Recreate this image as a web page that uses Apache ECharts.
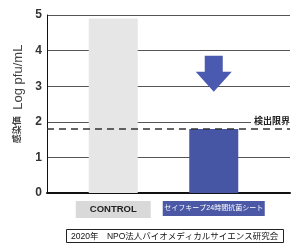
<!DOCTYPE html>
<html>
<head>
<meta charset="utf-8">
<script src="https://cdn.jsdelivr.net/npm/echarts@6/dist/echarts.min.js"></script>
<style>
  html, body { margin: 0; padding: 0; background: #fff; }
  #chart { width: 302px; height: 246px; }
</style>
</head>
<body>
<div id="chart"></div>
<script>
// data
const categories = ['CONTROL', 'セイフキープ24時間抗菌シート']
const values = [4.9, 1.8]
const barColors = ['#e6e6e6', '#4755a5']
const detectionLimit = 1.8
const limitLabel = '検出限界'
const arrowAt = 3.35
const yTicks = [0, 1, 2, 3, 4, 5]
const source = '2020年　NPO法人バイオメディカルサイエンス研究会'

const font = "'Liberation Sans', 'Noto Sans CJK JP', sans-serif"
const chart = echarts.init(document.getElementById('chart'))

const arrowPath = 'path://M9,0 H27 V16 H36 L18,36 L0,16 H9 Z'

chart.setOption({
  animation: false,
  textStyle: { fontFamily: font },
  title: {
    text: source,
    left: 66,
    top: 229,
    padding: [3, 5, 2, 5],
    borderColor: '#222',
    borderWidth: 1,
    textStyle: { fontSize: 8.5, fontWeight: 'normal', color: '#111', fontFamily: font }
  },
  grid: [
    { left: 47, right: 12, top: 15, bottom: 53 },
    { left: 63, right: 38, top: 15, bottom: 53 }
  ],
  xAxis: [
    {
      type: 'value', gridIndex: 0, min: 0, max: 1,
      axisLine: { show: true, lineStyle: { color: '#111', width: 2 } },
      axisTick: { show: false }, axisLabel: { show: false }, splitLine: { show: false }
    },
    {
      type: 'category', gridIndex: 1, data: categories,
      axisLine: { show: false }, axisTick: { show: false },
      axisLabel: {
        margin: 8,
        interval: 0,
        formatter: (v, i) => i === 0 ? '{c|' + v + '}' : '{s|' + v + '}',
        rich: {
          c: {
            backgroundColor: '#d9d9d9', width: 75, height: 17, align: 'center',
            fontSize: 9.5, fontWeight: 'bold', color: '#222', fontFamily: font
          },
          s: {
            backgroundColor: '#4a58a6', width: 102, height: 15, align: 'center',
            fontSize: 7, color: '#fff', fontFamily: font
          }
        }
      }
    }
  ],
  yAxis: [
    {
      type: 'value', gridIndex: 0, min: yTicks[0], max: yTicks[yTicks.length - 1], interval: 1,
      axisLine: { show: true, lineStyle: { color: '#111', width: 1 } },
      axisTick: { show: false },
      axisLabel: { margin: 5, fontSize: 12, fontWeight: 'bold', color: '#333' },
      splitLine: { lineStyle: { color: '#555', width: 1 } },
      name: '{a|感染価}  {b|Log pfu/mL}',
      nameLocation: 'middle',
      nameGap: 19,
      nameRotate: 90,
      nameTextStyle: {
        padding: [0, 0, 0, 20],
        rich: {
          a: { fontSize: 9, fontWeight: 'bold', color: '#444', fontFamily: font },
          b: { fontSize: 13, color: '#444', fontFamily: font }
        }
      }
    },
    {
      type: 'value', gridIndex: 1, min: 0, max: 5, show: false
    }
  ],
  series: [
    {
      type: 'bar',
      xAxisIndex: 1,
      yAxisIndex: 1,
      barWidth: 49,
      data: values.map((v, i) => ({ value: v, itemStyle: { color: barColors[i] } })),
      markPoint: {
        symbol: arrowPath,
        symbolSize: [36, 36],
        itemStyle: { color: '#4a5ab0' },
        label: { show: false },
        data: [{ coord: [1, arrowAt] }]
      }
    },
    {
      type: 'line',
      xAxisIndex: 0,
      yAxisIndex: 0,
      z: 10,
      symbol: 'none',
      data: [[0, detectionLimit], [1, detectionLimit]],
      lineStyle: { color: '#333', width: 1.5, type: [7, 5] },
      markLine: {
        silent: true,
        symbol: 'none',
        lineStyle: { color: 'rgba(0,0,0,0)', width: 1, type: 'solid' },
        label: {
          show: true,
          position: 'insideEnd',
          formatter: limitLabel,
          distance: 0,
          backgroundColor: '#fff',
          padding: [1, 0, 1, 3],
          fontSize: 9,
          fontWeight: 'bold',
          color: '#222',
          opacity: 1
        },
        data: [{ yAxis: 2 }]
      }
    }
  ]
})
</script>
</body>
</html>
